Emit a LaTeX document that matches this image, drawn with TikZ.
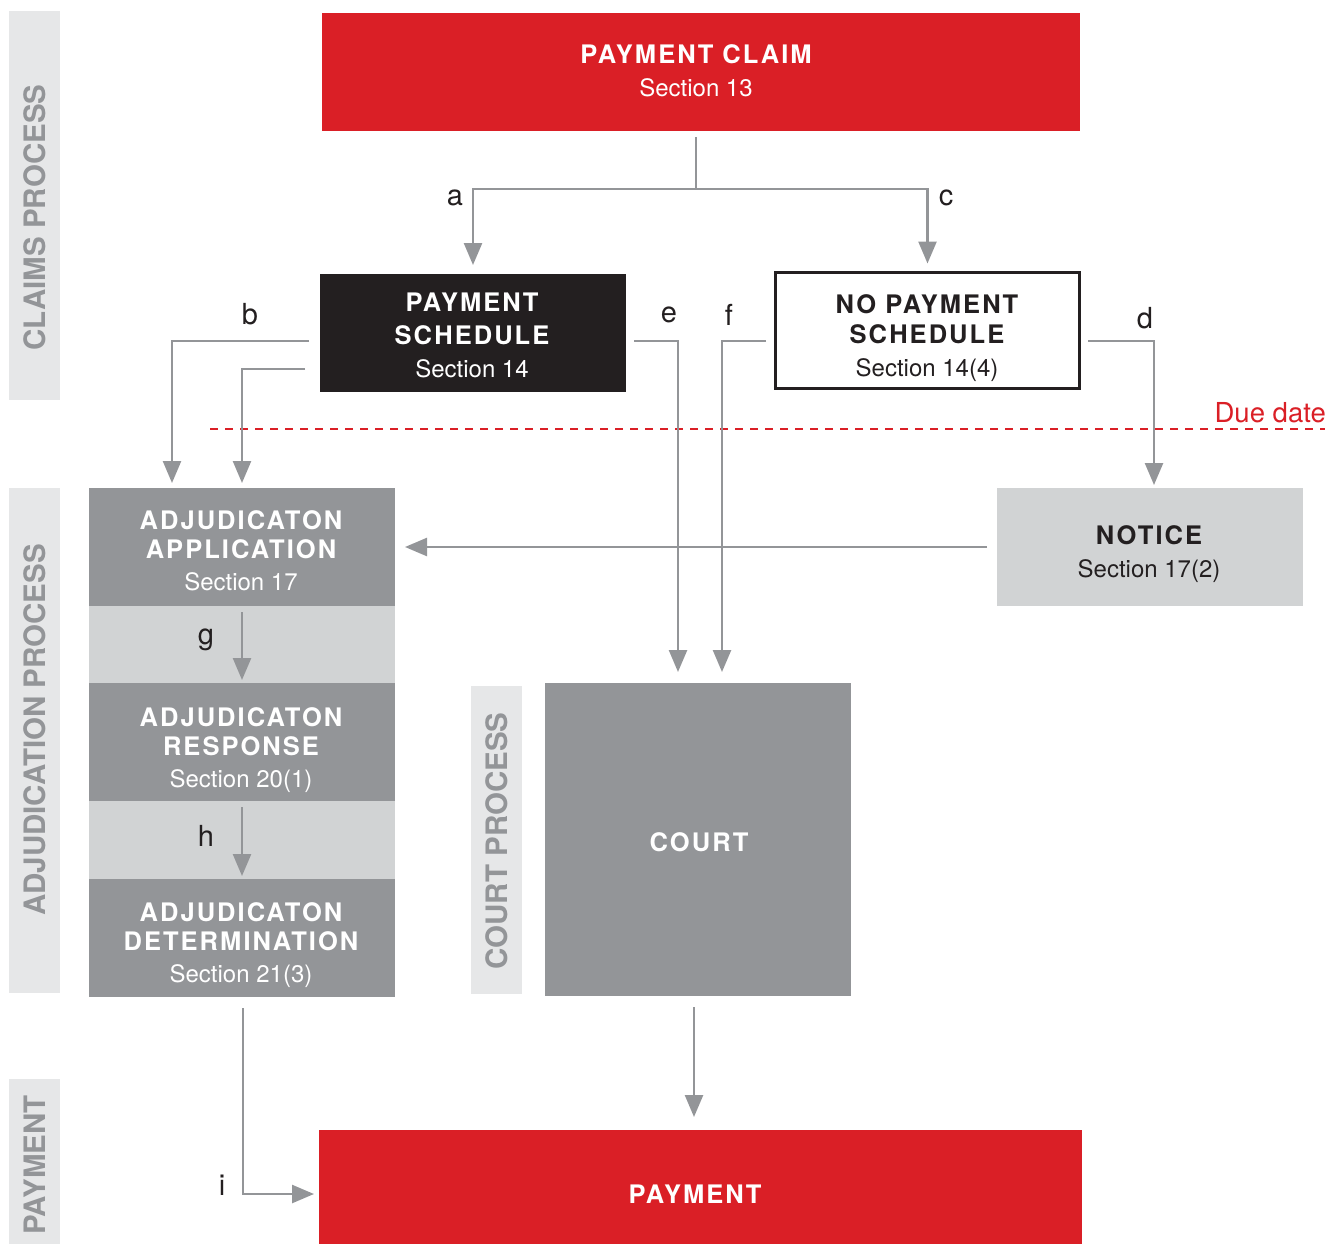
\documentclass[tikz,border=0pt]{standalone}
\usepackage{fontspec}
\setmainfont{TeX Gyre Heros}
\newfontfamily\tfont{TeX Gyre Heros}[LetterSpace=8]
\usetikzlibrary{arrows.meta}
\definecolor{cred}{HTML}{DA1F26}
\definecolor{cdark}{HTML}{231F20}
\definecolor{cgray}{HTML}{939598}
\definecolor{clight}{HTML}{D1D3D4}
\definecolor{cbandc}{HTML}{E6E7E8}
\newcommand\ttl[1]{{\fontsize{25.5}{29}\tfont\bfseries #1}}
\begin{document}
\begin{tikzpicture}[x=1pt,y=-1pt,
  box/.style={rectangle, inner sep=0pt, outer sep=0pt, minimum width=306pt, minimum height=118pt},
  txt/.style={inner sep=0pt, align=center},
  band/.style={rectangle, inner sep=0pt, outer sep=0pt, fill=cbandc, minimum width=51pt},
  sidelbl/.style={rotate=90, inner sep=0pt, text=cgray, font=\fontsize{29.5}{30}\selectfont\bfseries},
  lbl/.style={inner sep=0pt, text=cdark, font=\fontsize{29}{30}\selectfont},
  arr/.style={draw=cgray, line width=2.5pt, -{Triangle[length=22pt,width=18pt]}},
  duedash/.style={draw=cred, line width=2.5pt, dash pattern=on 8pt off 7pt}
]
\useasboundingbox (0,0) rectangle (1327,1244);

% side bands
\node[band, minimum height=389pt] (bclaims) at (34.5,205.5) {};
\node[band, minimum height=505pt] (badj) at (34.5,740.5) {};
\node[band, minimum height=165pt] (bpay) at (34.5,1161.5) {};
\node[band, minimum height=308pt] (bcourt) at (496.5,840) {};
\node[sidelbl] (lclaims) at (35,217.5) {CLAIMS PROCESS};
\node[sidelbl] (ladj) at (35,730) {ADJUDICATION PROCESS};
\node[sidelbl] (lpay) at (35,1165) {PAYMENT};
\node[sidelbl] (lcourt) at (497,841) {COURT PROCESS};

% main boxes
\node[box, fill=cred, minimum width=758pt] (claim) at (701,72) {};
\node[box, fill=cdark] (ps) at (473,333) {};
\node[box, draw=cdark, line width=2.5pt, fill=white, minimum width=304pt, minimum height=116pt] (nps) at (927.5,330.5) {};
\node[box, fill=cgray] (app) at (242,547) {};
\node[box, fill=clight, minimum height=77pt] (gband) at (242,644.5) {};
\node[box, fill=cgray] (resp) at (242,742) {};
\node[box, fill=clight, minimum height=78pt] (hband) at (242,840) {};
\node[box, fill=cgray] (det) at (242,938) {};
\node[box, fill=clight] (notice) at (1150,547) {};
\node[box, fill=cgray, minimum height=313pt] (court) at (698,839.5) {};
\node[box, fill=cred, minimum width=763pt, minimum height=114pt] (pay) at (700.5,1187) {};

% box texts
\node[txt, text=white, font=\fontsize{24}{33}\selectfont] (claimt) at (696,71.2)
  {\ttl{PAYMENT CLAIM}\\Section 13};
\node[txt, text=white, font=\fontsize{24}{33}\selectfont] (pst) at (472,335.7)
  {\ttl{PAYMENT}\\\ttl{SCHEDULE}\\Section 14};
\node[txt, text=cdark, font=\fontsize{24}{30}\selectfont] (npst) at (927,337.7)
  {\ttl{NO PAYMENT}\\\ttl{SCHEDULE}\\[3pt]Section 14(4)};
\node[txt, text=white, font=\fontsize{24}{29}\selectfont] (appt) at (241,551.2)
  {\ttl{ADJUDICATON}\\\ttl{APPLICATION}\\[3pt]Section 17};
\node[txt, text=white, font=\fontsize{24}{29}\selectfont] (respt) at (241,749.7)
  {\ttl{ADJUDICATON}\\\ttl{RESPONSE}\\[3pt]Section 20(1)};
\node[txt, text=white, font=\fontsize{24}{29}\selectfont] (dett) at (241,944.7)
  {\ttl{ADJUDICATON}\\\ttl{DETERMINATION}\\[3pt]Section 21(3)};
\node[txt, text=cdark, font=\fontsize{24}{33}\selectfont] (noticet) at (1149,553.7)
  {\ttl{NOTICE}\\Section 17(2)};
\node[txt, text=white] (courtt) at (699,842) {\ttl{COURT}};
\node[txt, text=white] (payt) at (695,1194) {\ttl{PAYMENT}};

% due date
\coordinate (d0) at (210,429);
\coordinate (d1) at (1325,429);
\draw[duedash] (d0) -- (d1);
\node[anchor=east, inner sep=0pt, text=cred, font=\fontsize{27.5}{30}\selectfont] (due) at (1326,413) {Due date};

% helper coordinates
\coordinate (c0) at (696,137);
\coordinate (cj) at (696,189);
\coordinate (b1) at (309,341);
\coordinate (b2) at (305,369);
\coordinate (xb) at (172,0);
\coordinate (e1) at (634,341);
\coordinate (xe) at (678,0);
\coordinate (f1) at (766,341);
\coordinate (xf) at (722,0);
\coordinate (dd1) at (1088,341);
\coordinate (xd) at (1154,0);
\coordinate (i1) at (243,1008);
\coordinate (k1) at (694,1007);
\coordinate (xk) at (694,0);

% connectors
\draw[arr] (c0) -- (cj) -| ([yshift=9pt]ps.north);
\draw[arr] (cj) -| ([yshift=9pt]nps.north);
\draw[arr, shorten >=5pt] (b1) -| (app.north -| xb);
\draw[arr, shorten >=5pt] (b2) -| (app.north);
\draw[arr, shorten >=11pt] (e1) -| (court.north -| xe);
\draw[arr, shorten >=11pt] (f1) -| (court.north -| xf);
\draw[arr, shorten >=3pt] (dd1) -| (notice.north -| xd);
\draw[arr] ([xshift=-10pt]notice.west) -- ([xshift=10pt]app.east);
\draw[arr] ([yshift=-6pt]app.south) -- ([yshift=3pt]resp.north);
\draw[arr] ([yshift=-6pt]resp.south) -- ([yshift=3pt]det.north);
\draw[arr, shorten >=5pt] (i1) |- ([yshift=-7pt]pay.west);
\draw[arr, shorten >=13pt] (k1) -- (pay.north -| xk);

% labels
\node[lbl] (la) at (455,198) {a};
\node[lbl] (lc) at (946,198) {c};
\node[lbl] (lb) at (250,314) {b};
\node[lbl] (le) at (669,315) {e};
\node[lbl] (lf) at (729,315) {f};
\node[lbl] (ld) at (1145,318) {d};
\node[lbl] (lg) at (206,640) {g};
\node[lbl] (lh) at (206,836) {h};
\node[lbl] (li) at (222,1185) {i};
\end{tikzpicture}
\end{document}
